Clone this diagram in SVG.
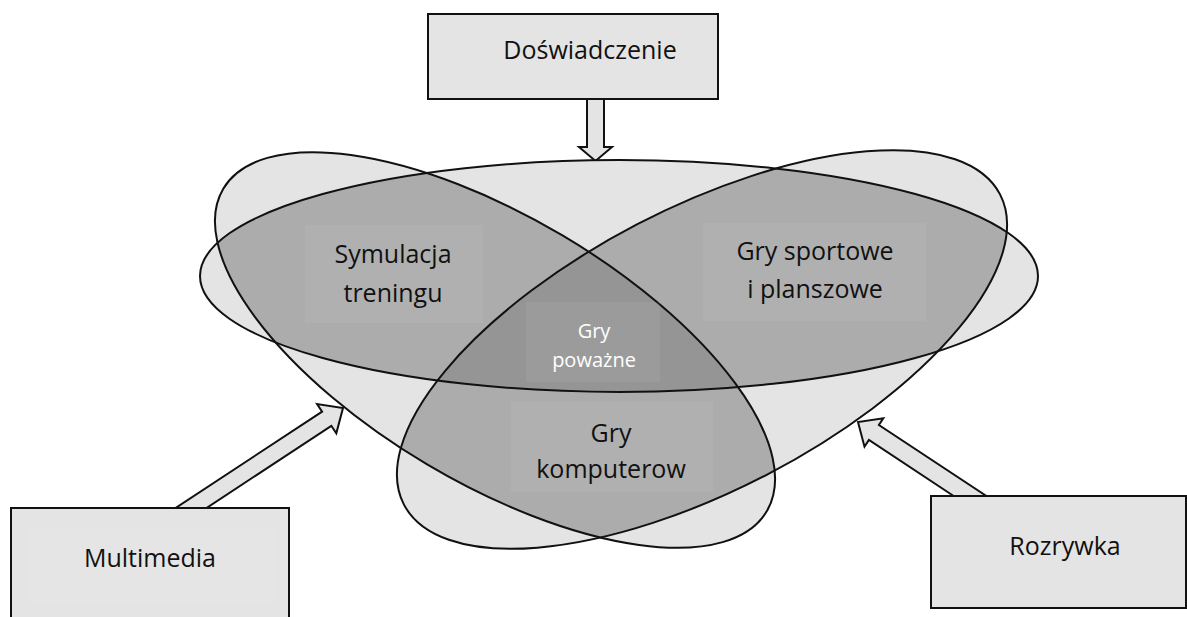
<svg xmlns="http://www.w3.org/2000/svg" width="1187" height="617" viewBox="0 0 1187 617">
  <style>
    .lbl { font-family: "Open Sans", "Liberation Sans", sans-serif; font-size: 25px; fill: #111; text-anchor: middle; }
    .wht { font-family: "Open Sans", "Liberation Sans", sans-serif; font-size: 20px; fill: #ffffff; text-anchor: middle; }
    .box { fill: #e4e4e4; stroke: #111; stroke-width: 2; }
    .inner { fill: #ffffff; opacity: 0.07; }
    .arrow { fill: #e4e4e4; stroke: #111; stroke-width: 2; stroke-linejoin: miter; }
    .outline { fill: none; stroke: #111; stroke-width: 2; }
    .lt { fill: #e4e4e4; }
    .dk { fill: #acacac; }
    .dd { fill: #959595; }
    .tbox { fill: #ffffff; opacity: 0.06; }
  </style>
  <defs>
    <ellipse id="eL" cx="495" cy="350" rx="316" ry="133" transform="rotate(30.7 495 350)"/>
    <ellipse id="eR" cx="702" cy="349.5" rx="336" ry="141" transform="rotate(-27.5 702 349.5)"/>
    <ellipse id="eH" cx="619" cy="276" rx="419" ry="116"/>
    <clipPath id="cL"><use href="#eL"/></clipPath>
    <clipPath id="cR"><use href="#eR"/></clipPath>
    <clipPath id="cH"><use href="#eH"/></clipPath>
  </defs>
  <rect width="1187" height="617" fill="#ffffff"/>

  <g id="connectors">
    <polygon class="arrow" points="587,99 604,99 604,147 612,147 595.5,161 579,147 587,147"/>
    <polygon class="arrow" points="169.5,512 322.1,411.6 317.1,404.1 343,408 336.3,433.3 331.3,425.8 200.5,512"/>
    <polygon class="arrow" points="959.7,500 868.9,440 864.5,446.7 858,422 883.3,418.3 878.9,425 992.4,500"/>
  </g>

  <g id="venn">
    <use href="#eL" class="lt"/>
    <use href="#eR" class="lt"/>
    <use href="#eH" class="lt"/>
    <g clip-path="url(#cH)"><use href="#eL" class="dk"/><use href="#eR" class="dk"/></g>
    <g clip-path="url(#cL)"><use href="#eR" class="dk"/></g>
    <g clip-path="url(#cH)"><g clip-path="url(#cL)"><use href="#eR" class="dd"/></g></g>
    <use href="#eL" class="outline"/>
    <use href="#eR" class="outline"/>
    <use href="#eH" class="outline"/>
  </g>

  <g id="node-symulacja">
    <rect class="tbox" x="305" y="225" width="178" height="98"/>
    <text class="lbl" x="393" y="263">Symulacja</text>
    <text class="lbl" x="393" y="302">treningu</text>
  </g>
  <g id="node-sportowe">
    <rect class="tbox" x="703" y="223" width="223" height="98"/>
    <text class="lbl" x="815" y="260">Gry sportowe</text>
    <text class="lbl" x="815" y="298">i planszowe</text>
  </g>
  <g id="node-powazne">
    <rect class="tbox" x="526" y="302" width="134" height="80"/>
    <text class="wht" x="594" y="338">Gry</text>
    <text class="wht" x="594" y="367">poważne</text>
  </g>
  <g id="node-komputerow">
    <rect class="tbox" x="511" y="402" width="202" height="90"/>
    <text class="lbl" x="611" y="442">Gry</text>
    <text class="lbl" x="611" y="478">komputerow</text>
  </g>

  <g id="node-doswiadczenie">
    <rect class="box" x="428" y="14" width="290" height="85"/>
    <text class="lbl" x="590" y="59">Doświadczenie</text>
  </g>
  <g id="node-multimedia">
    <rect class="box" x="11" y="508" width="278" height="130"/>
    <rect class="inner" x="27" y="528" width="247" height="74"/>
    <text class="lbl" x="150" y="567">Multimedia</text>
  </g>
  <g id="node-rozrywka">
    <rect class="box" x="931" y="496" width="255" height="112"/>
    <text class="lbl" x="1065" y="555">Rozrywka</text>
  </g>
</svg>
